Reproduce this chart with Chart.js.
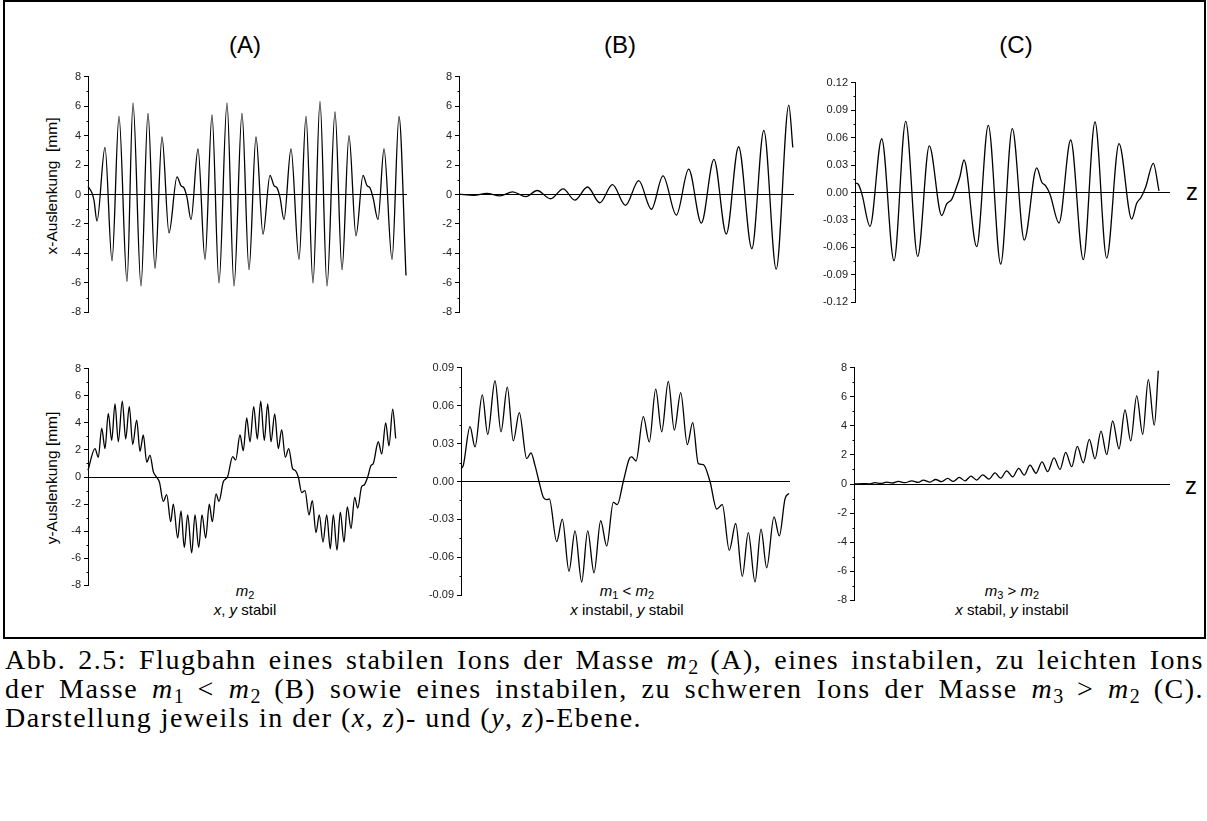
<!DOCTYPE html>
<html>
<head>
<meta charset="utf-8">
<script src="https://cdn.jsdelivr.net/npm/chart.js@4.4.0/dist/chart.umd.min.js"></script>
<style>
  body { margin: 0; width: 1207px; height: 821px; background: #fff; position: relative; overflow: hidden;
         font-family: 'Liberation Sans', Arial, sans-serif; color: #000; }
  .frame { position: absolute; left: 3px; top: 0; width: 1199px; height: 635px; border: 2px solid #000; box-sizing: content-box; }
  .panel { position: absolute; }
  .head { position: absolute; font-size: 24px; transform: translate(-50%, -50%); white-space: nowrap; }
  .ytitle { position: absolute; font-size: 15.5px; transform: translate(-50%, -50%) rotate(-90deg); white-space: pre; }
  .zlab { position: absolute; font-size: 24px; transform: translate(-50%, -50%); }
  .note { position: absolute; font-family: 'Liberation Sans Narrow', 'Liberation Sans', sans-serif; font-size: 15px;
          line-height: 19px; text-align: center; transform: translateX(-50%); white-space: nowrap; }
  .note sub { font-size: 11px; vertical-align: -3px; line-height: 0; }
  .caption { position: absolute; left: 5px; width: 1199px; font-family: 'Liberation Serif', serif; font-size: 28px;
             line-height: 29px; letter-spacing: 1.5px; }
  .caption div { text-align: justify; text-align-last: justify; white-space: nowrap; }
  .caption div.last { text-align-last: left; }
  .caption sub { font-size: 20px; vertical-align: -5px; line-height: 0; letter-spacing: 0; }
</style>
</head>
<body>
<div class="frame"></div>

<div class="head" style="left:245px; top:45px">(A)</div>
<div class="head" style="left:620px; top:45px">(B)</div>
<div class="head" style="left:1016px; top:45px">(C)</div>

<div class="ytitle" style="left:52px; top:186px">x-Auslenkung  [mm]</div>
<div class="ytitle" style="left:52px; top:478px">y-Auslenkung [mm]</div>

<div class="zlab" style="left:1192px; top:192px">z</div>
<div class="zlab" style="left:1191px; top:486px">z</div>

<div class="note" style="left:245px; top:581px"><i>m</i><sub>2</sub><br><i>x</i>, <i>y</i> stabil</div>
<div class="note" style="left:627px; top:581px"><i>m</i><sub>1</sub> &lt; <i>m</i><sub>2</sub><br><i>x</i> instabil, <i>y</i> stabil</div>
<div class="note" style="left:1012px; top:581px"><i>m</i><sub>3</sub> &gt; <i>m</i><sub>2</sub><br><i>x</i> stabil, <i>y</i> instabil</div>

<div class="caption" style="top:645px">
  <div>Abb. 2.5: Flugbahn eines stabilen Ions der Masse <i>m</i><sub>2</sub> (A), eines instabilen, zu leichten Ions</div>
  <div>der Masse <i>m</i><sub>1</sub> &lt; <i>m</i><sub>2</sub> (B) sowie eines instabilen, zu schweren Ions der Masse <i>m</i><sub>3</sub> &gt; <i>m</i><sub>2</sub> (C).</div>
  <div class="last">Darstellung jeweils in der (<i>x</i>, <i>z</i>)- und (<i>y</i>, <i>z</i>)-Ebene.</div>
</div>

<script>
// Trajectory samples (turning points and shoulders) along z for each ion.
// (A) m2: x stable
const zAx = [0, 4, 6, 9, 17, 24, 31, 39, 45, 53, 60, 67, 74, 81, 89, 93, 96, 99, 103, 110, 117, 124, 131, 139, 146,
  154, 161, 168, 175, 182, 186, 189, 192, 196, 203, 211, 218, 225, 232, 239, 247, 254, 261, 268, 275, 279, 282, 285,
  290, 296, 304, 311, 318];
const xA = [0.55, 0.1, -0.4, -1.8, 3.2, -4.5, 5.3, -5.9, 6.2, -6.2, 5.5, -5.0, 3.9, -2.6, 1.2, 0.6, 0.45, -0.2, -1.7,
  3.1, -4.4, 5.4, -6.0, 6.2, -6.2, 5.5, -5.1, 3.9, -2.7, 1.3, 0.6, 0.45, -0.2, -1.7, 3.1, -4.4, 5.3, -6.0, 6.3, -6.2,
  5.6, -5.1, 4.0, -2.8, 1.3, 0.6, 0.45, -0.2, -1.7, 3.1, -4.4, 5.3, -5.5];

// (A) m2: y stable
const zAy = [0, 7, 10.3, 13.7, 17, 20.3, 23.7, 27, 30.3, 34.3, 37.7, 41.3, 44.7, 48.7, 52, 55.3, 58.7, 62, 65.3, 68,
  71.5, 75.3, 78.7, 82.7, 85.3, 89.7, 93, 96.3, 99.7, 103.7, 107, 110.7, 114, 117.7, 121.3, 124.3, 128, 131, 135.3,
  139.5, 144.7, 147.7, 152, 155.3, 158.7, 162, 165.7, 169.3, 172.7, 176.3, 179.7, 183, 186.7, 190.3, 193.7, 197.3,
  200.7, 204.7, 207, 210.3, 213.7, 217, 221, 224.3, 228, 231.3, 235, 238.7, 242.3, 245.3, 249, 252.3, 256, 259.3,
  263, 266.7, 269.7, 273.7, 276, 279.7, 283, 285.3, 290.3, 293.7, 297.7, 301, 304.7, 307.7];
const yA = [0.5, 2.1, 1.45, 3.6, 2.1, 4.7, 2.7, 5.4, 2.6, 5.6, 2.8, 5.2, 2.4, 4.2, 1.9, 3.1, 1.1, 1.6, 0.4, 0.05,
  -0.4, -1.8, -1.3, -3.3, -2.0, -4.5, -2.5, -5.2, -2.8, -5.6, -2.8, -5.2, -2.8, -4.5, -2.0, -3.3, -1.25, -1.8, -0.35,
  0.0, 1.5, 1.26, 3.1, 1.94, 4.36, 2.6, 5.2, 2.8, 5.6, 2.7, 5.4, 2.6, 4.65, 2.1, 3.5, 1.45, 2.1, 0.6, 0.5, 0.0,
  -1.15, -1.0, -2.8, -1.75, -4.1, -2.8, -4.8, -2.8, -5.3, -2.8, -5.4, -2.6, -4.8, -2.2, -3.8, -1.5, -2.3, -0.7,
  -0.6, 0.0, 0.85, 1.0, 2.6, 1.7, 4.0, 2.3, 5.0, 2.85];

// (B) m1 < m2: x unstable
const zBx = [0, 15, 27.7, 41, 53.7, 67, 78.3, 91.7, 104.3, 116, 128.7, 141, 153.7, 166.7, 180, 192.7, 204.3, 217.7,
  230, 242.7, 255.3, 267.7, 280, 293.3, 305.3, 317.7, 330.3, 334.3];
const xB = [0.03, -0.05, 0.07, -0.1, 0.18, -0.15, 0.27, -0.29, 0.38, -0.38, 0.51, -0.56, 0.67, -0.74, 0.94, -1.0,
  1.27, -1.4, 1.72, -1.94, 2.39, -2.68, 3.24, -3.68, 4.35, -5.07, 6.07, 3.19];

// (B) m1 < m2: y stable
const zBy = [0, 2.3, 9, 14, 21.3, 26.7, 34, 40, 46.3, 52.3, 58.3, 65.7, 70, 74, 78, 82.3, 85.7, 88.3, 95.7, 101.3,
  108, 114, 120.7, 126.7, 133, 139.7, 145.7, 152.3, 156.3, 162.3, 168.3, 170.7, 175, 182.3, 188.3, 194.7, 200.7,
  207.3, 213.3, 219.7, 226.3, 231.7, 237.3, 242.3, 249, 255.7, 261.3, 268.3, 274.7, 281.3, 287.3, 294, 300, 305.7,
  313, 318.3, 324, 328];
const yB = [0.0101, 0.0127, 0.0433, 0.0273, 0.0685, 0.0372, 0.0796, 0.0393, 0.0746, 0.0321, 0.0544, 0.018, 0.0226,
  0.0127, 0.0, -0.0125, -0.0143, -0.0138, -0.0475, -0.0297, -0.0709, -0.039, -0.0794, -0.039, -0.0722, -0.031,
  -0.051, -0.0165, -0.0183, 0.0, 0.018, 0.0194, 0.0162, 0.0512, 0.0313, 0.073, 0.0393, 0.0791, 0.0406, 0.0703,
  0.0292, 0.0465, 0.0141, 0.0133, 0.0, -0.0218, -0.0183, -0.0544, -0.0332, -0.0749, -0.0404, -0.0794, -0.0377,
  -0.0682, -0.0279, -0.043, -0.0138, -0.0093];

// (C) m3 > m2: x stable
const zCx = [0, 3.3, 7, 15, 26.7, 39, 50.7, 62.7, 74.3, 86.7, 91.7, 96.7, 101, 105, 109, 121.7, 133.3, 145.7, 157.3,
  169.3, 181.7, 186.7, 190.7, 195, 204, 215.7, 228.3, 240, 251.7, 264, 276.7, 281.7, 286, 290.7, 298.3, 304];
const xC = [0.0104, 0.009, -0.002, -0.0369, 0.0587, -0.0745, 0.0777, -0.0698, 0.0509, -0.0251, -0.0125, -0.0075,
  0.0043, 0.0175, 0.0355, -0.0591, 0.0734, -0.0781, 0.0698, -0.0519, 0.0269, 0.0115, 0.0072, -0.0018, -0.0333,
  0.0573, -0.0734, 0.077, -0.0716, 0.0534, -0.029, -0.0118, -0.0054, 0.0061, 0.0319, 0.0018];

// (C) m3 > m2: y unstable
const zCy = [0, 9, 15, 21, 26.7, 32.7, 38.7, 44.3, 51, 57.7, 64.3, 69.3, 76, 81.7, 87.7, 93.7, 99.3, 105.3, 111, 117,
  122.7, 128.7, 135, 141, 146.7, 152.7, 158.7, 164.7, 170.3, 176, 182, 188, 193.7, 200, 206, 211.7, 217.7, 223.3,
  229.3, 235.3, 241, 247, 252.7, 258.7, 265, 271, 276.7, 282.7, 288.7, 294.3, 300.3, 304.3];
const yC = [0.0, 0.03, 0.01, 0.09, 0.04, 0.13, 0.07, 0.18, 0.09, 0.22, 0.11, 0.27, 0.13, 0.31, 0.16, 0.38, 0.18,
  0.45, 0.22, 0.54, 0.27, 0.63, 0.34, 0.76, 0.40, 0.9, 0.49, 1.08, 0.61, 1.3, 0.74, 1.52, 0.85, 1.79, 1.01, 2.17,
  1.19, 2.58, 1.46, 3.07, 1.73, 3.63, 2.02, 4.33, 2.42, 5.09, 2.96, 6.05, 3.41, 7.17, 4.04, 7.78];

// placement of each plot box on the page (plot area edges, in px)
const panels = [
  { z: zAx, v: xA, axisX: 88,  top: 75,  bottom: 314, right: 406,  zMax: 318,   min: -8,    max: 8,    step: 2,    dec: 0 },
  { z: zAy, v: yA, axisX: 88,  top: 367, bottom: 587, right: 396,  zMax: 308,   min: -8,    max: 8,    step: 2,    dec: 0 },
  { z: zBx, v: xB, axisX: 459, top: 75,  bottom: 314, right: 793,  zMax: 334.5, min: -8,    max: 8,    step: 2,    dec: 0 },
  { z: zBy, v: yB, axisX: 461, top: 366, bottom: 597, right: 789,  zMax: 328,   min: -0.09, max: 0.09, step: 0.03, dec: 2 },
  { z: zCx, v: xC, axisX: 855, top: 81,  bottom: 304, right: 1169, zMax: 314,   min: -0.12, max: 0.12, step: 0.03, dec: 2 },
  { z: zCy, v: yC, axisX: 854, top: 366, bottom: 602, right: 1169, zMax: 315,   min: -8,    max: 8,    step: 2,    dec: 0 },
];

const Y_W = 40, PAD_T = 8, PAD_B = 8, PAD_R = 4;

Chart.defaults.font.family = "'Liberation Sans', Arial, sans-serif";

// small unlabeled ticks halfway between the labeled ones
const minorTicks = {
  id: 'minorTicks',
  afterDraw(chart, args, opts) {
    const y = chart.scales.y;
    const ctx = chart.ctx;
    const x0 = Math.round(y.right) + 0.5;
    ctx.save();
    ctx.strokeStyle = '#000';
    ctx.lineWidth = 1;
    ctx.beginPath();
    const n = Math.round((y.max - y.min) / opts.step);
    for (let i = 0; i < n; i++) {
      const py = Math.round(y.getPixelForValue(y.min + (i + 0.5) * opts.step)) + 0.5;
      ctx.moveTo(x0 - 2, py);
      ctx.lineTo(x0, py);
    }
    ctx.stroke();
    ctx.restore();
  }
};

function makePanel(p) {
  const w = Y_W + (p.right - p.axisX) + PAD_R;
  const h = (p.bottom - p.top) + PAD_T + PAD_B;
  const wrap = document.createElement('div');
  wrap.className = 'panel';
  wrap.style.left = (p.axisX - Y_W) + 'px';
  wrap.style.top = (p.top - PAD_T) + 'px';
  const canvas = document.createElement('canvas');
  canvas.width = w;
  canvas.height = h;
  canvas.style.width = w + 'px';
  canvas.style.height = h + 'px';
  wrap.appendChild(canvas);
  document.body.appendChild(wrap);

  return new Chart(canvas, {
    type: 'line',
    data: {
      datasets: [{
        data: p.z.map((z, i) => ({ x: z, y: p.v[i] })),
        borderColor: '#000',
        borderWidth: 1.3,
        pointRadius: 0,
        fill: false,
        cubicInterpolationMode: 'monotone',
        clip: false
      }]
    },
    options: {
      responsive: false,
      animation: false,
      events: [],
      layout: { padding: { top: PAD_T, bottom: PAD_B, left: 0, right: PAD_R } },
      plugins: {
        legend: { display: false },
        tooltip: { enabled: false },
        minorTicks: { step: p.step }
      },
      scales: {
        x: {
          type: 'linear',
          min: 0,
          max: p.zMax,
          position: { y: 0 },
          ticks: { display: false },
          grid: { display: false },
          border: { display: true, color: '#000', width: 1 }
        },
        y: {
          type: 'linear',
          min: p.min,
          max: p.max,
          afterFit: s => { s.width = Y_W; },
          ticks: {
            stepSize: p.step,
            autoSkip: false,
            padding: 3,
            color: '#222',
            font: { size: 11 },
            callback: v => (Math.abs(v) < 1e-9 ? 0 : v).toFixed(p.dec)
          },
          grid: { drawOnChartArea: false, tickLength: 4, color: '#000', lineWidth: 1 },
          border: { display: true, color: '#000', width: 1 }
        }
      }
    },
    plugins: [minorTicks]
  });
}

panels.forEach(makePanel);
</script>
</body>
</html>
